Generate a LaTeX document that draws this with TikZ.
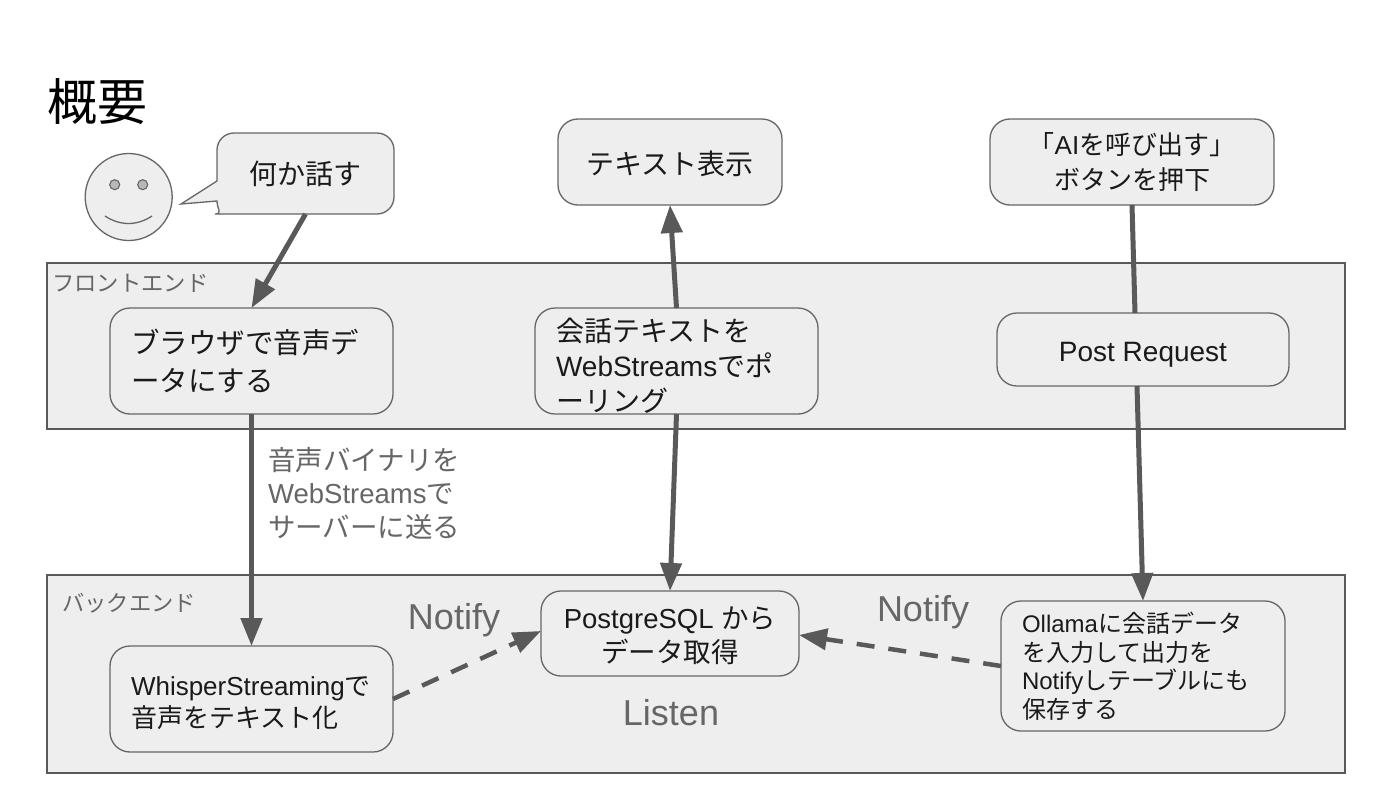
\documentclass[tikz,border=0pt]{standalone}
\usepackage{fontspec}
\setmainfont{Liberation Sans}
\newfontfamily\cjk{Noto Sans CJK JP}
\newcommand{\J}[1]{{\cjk #1}}
\newcommand{\fs}[2]{\fontsize{#1}{#2}\selectfont}
\newcommand{\lift}[1]{\rule{0pt}{#1pt}}
\usetikzlibrary{arrows.meta}
\definecolor{panelfill}{HTML}{EEEEEE}
\definecolor{edgegrey}{HTML}{595959}
\definecolor{linegrey}{HTML}{666666}
\definecolor{labelgrey}{HTML}{666666}
\definecolor{inkblack}{HTML}{1A1A1A}
\tikzset{
  x=1pt,y=-1pt,
  panel/.style={draw=edgegrey,line width=1.5pt,fill=panelfill,rectangle,anchor=north west,inner sep=0pt,outer sep=0pt},
  box/.style={draw=linegrey,line width=1.3pt,fill=panelfill,rounded corners=20pt,rectangle,anchor=north west,
    inner sep=0pt,outer sep=0pt,text=inkblack,align=center},
  sized/.style 2 args={minimum width=#1 pt,minimum height=#2 pt},
  lbox/.style={box,align=left,inner xsep=21pt},
  conn/.style={draw=edgegrey,line width=5pt,-{Triangle[length=28pt,width=21pt]}},
  plainconn/.style={draw=edgegrey,line width=5pt},
  dashconn/.style={draw=edgegrey,line width=4.5pt,dash pattern=on 18pt off 14pt,-{Triangle[length=28pt,width=21pt]}},
  greytext/.style={text=labelgrey,inner sep=0pt},
}
\begin{document}
\begin{tikzpicture}
\useasboundingbox (0,0) rectangle (1400,785);
% panels
\node[panel,sized={1298}{166}] (front) at (47,263) {};
\node[panel,sized={1298}{198}] (back) at (47,575) {};
\node[greytext,anchor=west,font=\fs{22.3}{25}] (frontlabel) at (52,283) {\J{フロントエンド}};
\node[greytext,anchor=west,font=\fs{22.3}{25}] (backlabel) at (62,603) {\J{バックエンド}};
% title
\node[inner sep=0pt,text=black,font=\fs{50}{55}] (title) at (97,101.5) {\J{概要}};
% face
\node[circle,draw=linegrey,line width=1.3pt,fill=panelfill,minimum size=87pt,inner sep=0pt] (face) at (128.7,197) {};
\node[circle,draw=linegrey,line width=1.1pt,fill=black!28,minimum size=10pt,inner sep=0pt] (eyeL) at (114.7,184.7) {};
\node[circle,draw=linegrey,line width=1.1pt,fill=black!28,minimum size=10pt,inner sep=0pt] (eyeR) at (142.7,184.7) {};
\draw[linegrey,line width=1.3pt] (105,216) .. controls (120,226) and (137,226) .. (152,216);
% speech bubble
\draw[draw=linegrey,line width=1.3pt,fill=panelfill]
  (217,181) [rounded corners=17pt] -- (217,133) -- (394,133) -- (394,214) -- (232,214)
  [sharp corners] .. controls (223,214) and (217,209) .. (217,201) -- (181,204) -- cycle;
\node[inner sep=0pt,outer sep=0pt,text=inkblack,minimum width=177pt,minimum height=81pt,anchor=north west,font=\fs{28}{32}] (bubble) at (217,133) {\J{何か話す}};
% boxes
\node[lbox,sized={283}{106},text width=241pt,font=\fs{28.5}{38}] (browser) at (110,308) {\J{ブラウザで音声デ}\\\J{ータにする}};
\node[box,sized={224}{86},font=\fs{28}{32}] (display) at (558,119) {\lift{28}\J{テキスト表示}};
\node[lbox,sized={283}{106},text width=241pt,font=\fs{28}{35}] (polling) at (535,308) {\lift{32}\J{会話テキストを}\\WebStreams\J{でポ}\\\J{ーリング}};
\node[box,sized={284}{86},font=\fs{26}{35}] (aibutton) at (990,119) {\J{「}AI\J{を呼び出す」}\\\J{ボタンを押下}};
\node[box,sized={292}{73},font=\fs{28}{30}] (post) at (997,313) {\lift{29}Post Request};
\node[lbox,sized={283}{106},text width=241pt,font=\fs{26}{32}] (whisper) at (110,646) {\lift{27}WhisperStreaming\J{で}\\\J{音声をテキスト化}};
\node[box,sized={258}{85},font=\fs{27.5}{34.5}] (postgres) at (541,591) {\lift{26}PostgreSQL \J{から}\\\J{データ取得}};
\node[lbox,sized={284}{130},text width=242pt,font=\fs{24}{28.5}] (ollama) at (1001,601) {Ollama\J{に会話データ}\\\J{を入力して出力を}\\Notify\J{しテーブルにも}\\\J{保存する}};
% connectors
\draw[conn] (bubble.south) -- (browser.north);
\draw[conn] (browser.south) -- (whisper.north);
\draw[conn] (polling.north) -- (display.south);
\draw[conn] (polling.south) -- (postgres.north);
\draw[plainconn] (aibutton.south) -- ([xshift=-8pt]post.north);
\draw[conn] ([xshift=-6pt]post.south) -- (ollama.north);
\draw[dashconn] (whisper.east) -- ([yshift=2.5pt]postgres.west);
\draw[dashconn] (ollama.west) -- ([yshift=-1.5pt]postgres.east);
% labels
\node[greytext,anchor=north west,align=left,font=\fs{27.5}{33.5}] (binlabel) at (268,447) {\J{音声バイナリを}\\WebStreams\J{で}\\\J{サーバーに送る}};
\node[greytext,font=\fs{36}{40}] (notifyL) at (454,620) {Notify};
\node[greytext,font=\fs{36}{40}] (notifyR) at (923,612) {Notify};
\node[greytext,font=\fs{36}{40}] (listen) at (671,713) {Listen};
\end{tikzpicture}
\end{document}
